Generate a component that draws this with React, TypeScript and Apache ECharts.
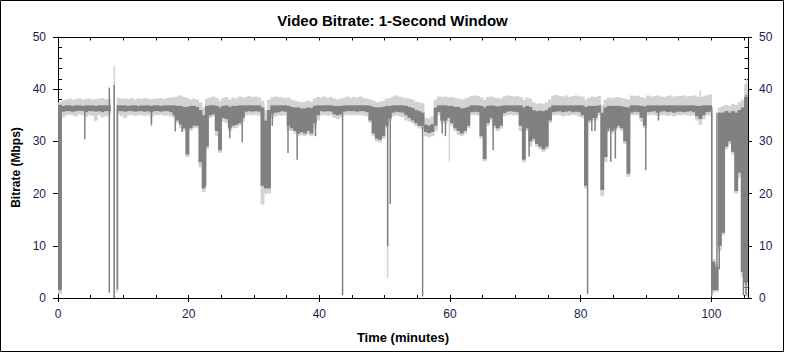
import React, { useEffect, useRef } from "react";
import * as echarts from "echarts";

// ---- data ----
const BIN = 0.5; // minutes per bin
const X_MAX = 105.6;
const xMajorTicks = [0, 20, 40, 60, 80, 100];
const xMinorTicks = [0, 5, 10, 15, 20, 25, 30, 35, 40, 45, 50, 55, 60, 65, 70, 75, 80, 85, 90, 95, 100, 105];

// dark series (1-second bitrate) band: high / low per half-minute bin
const darkHi = [
  37.0, 36.8, 36.9, 36.9, 36.8, 36.9, 36.9, 36.8, 36.9, 36.9,
  36.9, 36.8, 36.9, 36.9, 36.9, 36.9, 0, 0, 36.9, 36.9,
  36.9, 36.8, 36.9, 36.9, 36.8, 36.9, 36.9, 36.9, 36.8, 36.9,
  36.9, 36.8, 36.9, 36.9, 36.9, 36.9, 36.8, 36.8, 36.6, 36.6,
  36.8, 36.8, 36.6, 36.0, 35.0, 36.8, 36.9, 36.9, 36.8, 36.5,
  36.8, 36.9, 36.6, 36.8, 36.8, 36.9, 36.9, 36.9, 36.9, 36.9,
  36.9, 36.9, 36.5, 34.0, 36.0, 36.9, 36.9, 36.9, 36.9, 36.9,
  36.8, 36.6, 36.5, 36.5, 36.3, 36.3, 36.5, 36.4, 36.8, 36.9,
  36.9, 36.9, 36.9, 36.9, 36.8, 36.8, 36.8, 36.9, 36.9, 36.9,
  36.9, 36.9, 36.9, 36.9, 36.9, 36.8, 36.6, 36.5, 36.5, 36.6,
  36.8, 36.8, 36.9, 36.9, 36.9, 36.9, 36.8, 36.6, 36.4, 36.0,
  35.8, 35.5, 33.2, 33.0, 33.3, 36.5, 36.9, 36.9, 36.9, 36.8,
  36.8, 36.6, 36.6, 36.3, 36.4, 36.6, 36.9, 36.9, 36.9, 36.8,
  36.5, 36.8, 36.9, 36.8, 36.7, 36.8, 36.9, 36.9, 36.9, 36.9,
  36.9, 36.9, 36.5, 36.8, 36.6, 36.0, 35.8, 35.9, 35.8, 36.0,
  36.5, 36.9, 36.9, 36.9, 36.9, 36.9, 36.9, 36.9, 36.9, 36.9,
  36.9, 36.6, 36.8, 36.8, 36.8, 36.9, 35.5, 36.5, 36.8, 36.8,
  36.8, 36.8, 36.7, 36.6, 36.5, 36.9, 36.9, 36.9, 36.8, 36.7,
  36.9, 36.9, 36.9, 36.9, 36.9, 36.9, 36.9, 36.9, 36.9, 36.9,
  36.9, 36.9, 36.9, 36.9, 36.9, 36.8, 36.8, 36.9, 36.9, 36.9,
  7.0, 6.0, 35.5, 35.5, 35.8, 35.5, 35.8, 35.5, 36.0, 36.5, 38.5, 38.0,
];
const darkLo = [
  1.5, 35.7, 35.8, 35.8, 35.7, 35.8, 35.9, 35.8, 35.6, 35.8,
  35.8, 35.7, 35.8, 35.6, 35.8, 35.8, 0, 0, 35.8, 35.8,
  35.7, 35.8, 35.8, 35.7, 35.8, 35.8, 35.7, 35.8, 35.6, 35.8,
  35.8, 35.7, 35.8, 35.8, 35.6, 35.0, 34.0, 33.2, 32.5, 27.5,
  32.5, 33.0, 33.0, 26.0, 21.0, 29.0, 35.0, 35.2, 32.0, 28.3,
  34.5, 34.3, 32.5, 33.0, 33.2, 33.5, 34.5, 35.7, 35.8, 35.7,
  35.8, 35.7, 21.5, 21.0, 21.0, 35.3, 35.5, 35.6, 35.8, 35.7,
  33.0, 32.5, 32.0, 31.5, 31.8, 31.5, 32.0, 31.5, 33.5, 35.0,
  35.8, 35.7, 35.8, 35.7, 35.2, 35.0, 35.2, 35.7, 35.8, 35.8,
  35.8, 35.7, 35.8, 35.8, 35.6, 34.0, 31.5, 30.5, 30.3, 31.0,
  33.0, 34.5, 35.5, 35.7, 35.6, 35.5, 35.0, 34.5, 34.0, 33.5,
  33.0, 33.0, 31.8, 31.6, 31.8, 33.0, 35.6, 34.0, 34.0, 34.5,
  33.5, 32.5, 32.0, 31.5, 32.0, 33.0, 35.6, 35.7, 35.6, 31.0,
  26.6, 33.5, 34.5, 33.0, 32.5, 33.0, 35.4, 35.7, 35.8, 35.7,
  35.6, 33.0, 26.5, 32.5, 30.0, 30.5, 29.5, 29.0, 28.5, 29.0,
  34.0, 35.6, 35.7, 35.8, 35.6, 35.7, 35.8, 35.6, 35.7, 35.6,
  35.0, 21.5, 34.0, 34.5, 34.5, 35.5, 20.7, 27.0, 32.5, 32.0,
  32.5, 33.0, 32.5, 30.0, 23.8, 35.5, 35.7, 35.6, 34.5, 33.0,
  35.6, 35.7, 35.8, 35.5, 35.7, 35.8, 35.6, 35.7, 35.5, 35.7,
  35.7, 35.6, 35.7, 35.8, 35.6, 34.8, 34.3, 35.0, 35.6, 35.7,
  1.5, 1.5, 10.0, 12.5, 29.0, 30.0, 28.0, 20.5, 24.0, 5.0, 3.0, 3.0,
];
// light series (peak) band
const lightHi = [
  37.5, 37.9, 38.0, 38.2, 38.0, 38.1, 38.3, 38.0, 38.1, 38.2,
  38.0, 38.1, 38.2, 38.3, 38.1, 38.0, 0, 0, 38.3, 38.2,
  38.2, 38.1, 38.3, 38.0, 38.2, 38.1, 38.3, 38.2, 38.0, 38.2,
  38.2, 38.3, 38.1, 38.3, 38.4, 38.5, 38.6, 38.8, 38.5, 38.3,
  38.0, 38.2, 38.0, 37.5, 36.5, 38.2, 38.4, 38.6, 38.3, 37.8,
  38.3, 38.5, 38.0, 38.4, 38.2, 38.6, 38.4, 38.5, 38.7, 38.5,
  38.6, 38.4, 37.8, 36.0, 38.0, 38.5, 38.6, 38.5, 38.4, 38.3,
  38.4, 38.0, 37.8, 37.6, 37.5, 37.6, 37.8, 37.6, 38.2, 38.5,
  38.4, 38.6, 38.3, 38.5, 38.2, 38.0, 38.2, 38.4, 38.6, 38.3,
  38.5, 38.4, 38.6, 38.3, 38.2, 38.0, 37.8, 37.5, 37.6, 37.8,
  38.2, 38.3, 38.6, 38.8, 38.6, 38.4, 38.3, 38.2, 38.0, 37.6,
  37.5, 37.3, 34.5, 34.4, 34.8, 38.0, 38.6, 38.5, 38.6, 38.4,
  38.5, 38.3, 38.2, 38.0, 38.2, 38.4, 38.7, 38.8, 38.7, 38.4,
  38.0, 38.5, 38.6, 38.4, 38.3, 38.2, 38.6, 38.8, 38.7, 38.6,
  38.7, 38.5, 38.0, 38.4, 38.2, 37.5, 37.2, 37.3, 37.2, 37.5,
  38.0, 38.8, 38.9, 38.7, 38.6, 38.8, 38.5, 38.7, 38.8, 38.6,
  38.6, 38.0, 38.4, 38.6, 38.5, 38.7, 37.0, 38.0, 38.4, 38.3,
  38.4, 38.5, 38.3, 38.2, 38.0, 38.8, 38.7, 38.8, 38.5, 38.3,
  38.8, 38.6, 38.7, 38.8, 38.6, 38.5, 38.7, 38.8, 38.6, 38.7,
  38.7, 38.8, 38.6, 38.7, 38.8, 38.6, 38.5, 38.6, 38.8, 39.0,
  7.5, 6.5, 36.5, 36.8, 37.0, 36.8, 37.2, 37.0, 37.5, 38.0, 41.0, 40.0,
];
const lightLo = [
  0.8, 34.6, 35.0, 35.1, 35.0, 34.8, 35.2, 35.0, 34.7, 35.0,
  34.9, 34.0, 35.0, 34.6, 34.8, 35.0, 0, 0, 35.1, 34.8,
  34.5, 35.0, 35.1, 34.9, 35.0, 35.1, 34.9, 35.0, 34.6, 35.0,
  35.0, 35.1, 34.9, 35.0, 34.8, 34.5, 33.5, 32.5, 32.0, 27.0,
  32.0, 32.5, 32.5, 25.0, 20.3, 28.5, 34.5, 34.8, 31.0, 27.8,
  33.8, 33.5, 32.0, 32.5, 32.6, 33.0, 33.8, 35.0, 35.1, 35.0,
  35.1, 34.9, 18.0, 20.0, 20.0, 34.5, 34.8, 35.0, 34.9, 35.0,
  32.0, 32.0, 31.5, 31.0, 31.2, 31.0, 31.3, 31.0, 32.5, 34.0,
  35.0, 35.1, 34.9, 35.0, 34.5, 34.3, 34.6, 35.0, 35.1, 35.0,
  35.1, 35.0, 35.1, 34.9, 34.8, 33.5, 31.0, 30.0, 29.8, 30.5,
  32.5, 34.0, 34.8, 35.0, 34.8, 34.6, 34.0, 33.8, 33.5, 33.0,
  32.5, 32.3, 31.0, 30.8, 31.0, 32.0, 35.0, 33.5, 33.4, 33.8,
  33.0, 32.0, 31.2, 31.0, 31.5, 32.5, 35.0, 35.1, 35.0, 30.5,
  26.2, 33.0, 34.0, 32.5, 32.0, 32.4, 34.8, 35.0, 35.1, 35.0,
  35.0, 32.0, 26.0, 32.0, 29.0, 30.0, 29.0, 28.5, 28.0, 28.5,
  33.5, 35.0, 35.1, 35.0, 34.8, 35.0, 34.9, 35.1, 35.0, 34.7,
  34.5, 21.0, 33.5, 34.0, 34.0, 35.0, 19.5, 26.0, 32.0, 31.5,
  32.0, 32.5, 32.0, 29.5, 23.2, 35.0, 35.1, 35.0, 33.8, 32.5,
  35.0, 35.1, 35.0, 34.9, 35.0, 35.1, 34.9, 35.0, 34.8, 35.0,
  35.0, 35.1, 35.0, 34.9, 35.0, 34.0, 33.2, 34.2, 35.0, 35.0,
  1.0, 1.2, 9.0, 12.0, 28.5, 29.5, 27.5, 20.0, 23.0, 4.0, 2.5, 2.5,
];

// narrow single-second dips / peaks (minutes, low, high)
const darkSpikeT = [4.1, 7.85, 8.6, 9.1, 14.3, 17.95, 19.0, 22.6, 26.3, 28.2, 32.8, 35.2, 36.6, 39.4, 43.55, 50.45, 50.85, 55.8, 58.8, 59.3, 66.6, 72.1, 81.05, 81.7, 82.2, 84.2, 84.6, 85.3, 89.95, 91.9, 100.05, 100.85, 101.2, 104.9, 105.3];
const darkSpikeLo = [30.4, 1.0, 0.0, 1.6, 33.2, 31.9, 31.8, 21.5, 30.6, 29.8, 33.0, 27.8, 26.5, 31.0, 0.5, 9.9, 18.0, 0.3, 31.5, 31.0, 28.3, 27.1, 0.8, 32.0, 32.0, 31.9, 26.1, 26.7, 24.5, 34.0, 0.6, 4.0, 5.5, 0.5, 0.5];
const darkSpikeHi = [36.0, 40.3, 40.8, 37.0, 36.0, 36.0, 36.0, 35.5, 36.0, 36.0, 36.0, 36.0, 36.0, 36.0, 36.5, 36.5, 36.5, 35.5, 36.0, 36.0, 36.0, 36.0, 36.0, 36.0, 36.0, 36.0, 36.0, 36.0, 36.0, 36.0, 36.6, 35.5, 35.5, 36.0, 39.0];
const lightSpikeT = [5.6, 8.6, 9.0, 14.3, 31.35, 50.45, 59.9, 98.3, 100.1, 105.4];
const lightSpikeLo = [33.8, 0.0, 1.0, 32.8, 17.8, 3.8, 26.1, 34.5, 0.3, 0.3];
const lightSpikeHi = [36.0, 44.5, 36.0, 36.0, 36.0, 36.0, 36.0, 39.8, 36.0, 42.1];

const TITLE = "Video Bitrate: 1-Second Window";
const X_NAME = "Time (minutes)";
const Y_NAME = "Bitrate (Mbps)";

const DARK = "#808080";
const LIGHT = "#d3d3d3";
const LABEL = "#1c1c50";
const FONT = "'Liberation Sans', Arial, sans-serif";

function bandData(lo: number[], hi: number[]) {
  const n = Math.min(lo.length, hi.length);
  const out: number[][] = [];
  for (let i = 0; i < n; i++) out.push([i * BIN, lo[i], hi[i]]);
  return out;
}
function spikeData(t: number[], lo: number[], hi: number[]) {
  return t.map((v, i) => [v, lo[i], hi[i]]);
}

function bandRender(color: string) {
  return (params: any, api: any) => {
    const t = api.value(0);
    const lo = api.value(1);
    const hi = api.value(2);
    if (!(hi > lo)) return null;
    const a = api.coord([t, hi]);
    const b = api.coord([t + BIN, lo]);
    return {
      type: "rect",
      shape: { x: a[0], y: a[1], width: b[0] - a[0] + 0.6, height: b[1] - a[1] },
      style: { fill: color },
    };
  };
}
function spikeRender(color: string) {
  return (params: any, api: any) => {
    const t = api.value(0);
    const a = api.coord([t, api.value(2)]);
    const b = api.coord([t, api.value(1)]);
    return {
      type: "line",
      shape: { x1: a[0], y1: a[1], x2: b[0], y2: b[1] },
      style: { stroke: color, lineWidth: 1.5 },
    };
  };
}

export default function App() {
  const ref = useRef<HTMLDivElement>(null);
  useEffect(() => {
    if (!ref.current) return;
    const chart = echarts.init(ref.current, undefined, { renderer: "svg" });
    const black = { color: "#000", width: 1 };
    const baseX = {
      type: "value" as const,
      min: 0,
      max: X_MAX,
      splitLine: { show: false },
    };
    const baseY = {
      type: "value" as const,
      min: 0,
      max: 50,
      splitLine: { show: false },
    };
    const labelStyle = { color: LABEL, fontSize: 12, fontFamily: FONT };
    chart.setOption({
      animation: false,
      backgroundColor: "#fff",
      title: {
        text: TITLE,
        left: "center",
        top: 8,
        textStyle: { fontSize: 15, fontWeight: "bold", color: "#000", fontFamily: FONT },
      },
      grid: { left: 58, right: 37, top: 37, bottom: 55, containLabel: false },
      xAxis: [
        {
          ...baseX,
          position: "bottom",
          axisLine: { show: true, onZero: false, lineStyle: black },
          axisTick: { show: true, inside: false, length: 4, customValues: xMajorTicks, lineStyle: black },
          axisLabel: { ...labelStyle, margin: 10, customValues: xMajorTicks },
          name: X_NAME,
          nameLocation: "middle",
          nameGap: 33,
          nameTextStyle: { fontWeight: "bold", fontSize: 13, color: "#000", fontFamily: FONT },
        },
        {
          ...baseX,
          position: "bottom",
          axisLine: { show: false, onZero: false },
          axisTick: { show: true, inside: true, length: 3, customValues: xMinorTicks, lineStyle: black },
          axisLabel: { show: false },
        },
        {
          ...baseX,
          position: "top",
          axisLine: { show: true, onZero: false, lineStyle: black },
          axisTick: { show: true, inside: true, length: 3.5, customValues: xMinorTicks, lineStyle: black },
          axisLabel: { show: false },
        },
      ],
      yAxis: [
        {
          ...baseY,
          position: "left",
          interval: 10,
          axisLine: { show: true, onZero: false, lineStyle: black },
          axisTick: { show: true, inside: false, length: 5, lineStyle: black },
          axisLabel: { ...labelStyle, margin: 12 },
          name: Y_NAME,
          nameLocation: "middle",
          nameGap: 34,
          nameRotate: 90,
          nameTextStyle: { fontWeight: "bold", fontSize: 12, color: "#000", fontFamily: FONT },
        },
        {
          ...baseY,
          position: "left",
          interval: 2,
          axisLine: { show: false, onZero: false },
          axisTick: { show: true, inside: true, length: 4, lineStyle: black },
          axisLabel: { show: false },
        },
        {
          ...baseY,
          position: "right",
          interval: 10,
          axisLine: { show: true, onZero: false, lineStyle: black },
          axisTick: { show: true, inside: false, length: 4, lineStyle: black },
          axisLabel: { ...labelStyle, margin: 11 },
        },
        {
          ...baseY,
          position: "right",
          interval: 2,
          axisLine: { show: false, onZero: false },
          axisTick: { show: true, inside: true, length: 3.5, lineStyle: black },
          axisLabel: { show: false },
        },
      ],
      graphic: [
        {
          type: "rect",
          silent: true,
          shape: { x: 0.5, y: 0.5, width: 783, height: 351 },
          style: { fill: "none", stroke: "#000", lineWidth: 1 },
        },
      ],
      series: [
        {
          type: "custom",
          name: "peak",
          xAxisIndex: 0,
          yAxisIndex: 0,
          clip: true,
          renderItem: bandRender(LIGHT),
          data: bandData(lightLo, lightHi),
        },
        {
          type: "custom",
          name: "peakSpikes",
          xAxisIndex: 0,
          yAxisIndex: 0,
          clip: true,
          renderItem: spikeRender(LIGHT),
          data: spikeData(lightSpikeT, lightSpikeLo, lightSpikeHi),
        },
        {
          type: "custom",
          name: "bitrate",
          xAxisIndex: 0,
          yAxisIndex: 0,
          clip: true,
          renderItem: bandRender(DARK),
          data: bandData(darkLo, darkHi),
        },
        {
          type: "custom",
          name: "bitrateSpikes",
          xAxisIndex: 0,
          yAxisIndex: 0,
          clip: true,
          renderItem: spikeRender(DARK),
          data: spikeData(darkSpikeT, darkSpikeLo, darkSpikeHi),
        },
      ],
    });
    return () => chart.dispose();
  }, []);
  return (
    <div
      ref={ref}
      style={{ position: "absolute", left: 0, top: 0, width: 785, height: 353, background: "#fff" }}
    />
  );
}
